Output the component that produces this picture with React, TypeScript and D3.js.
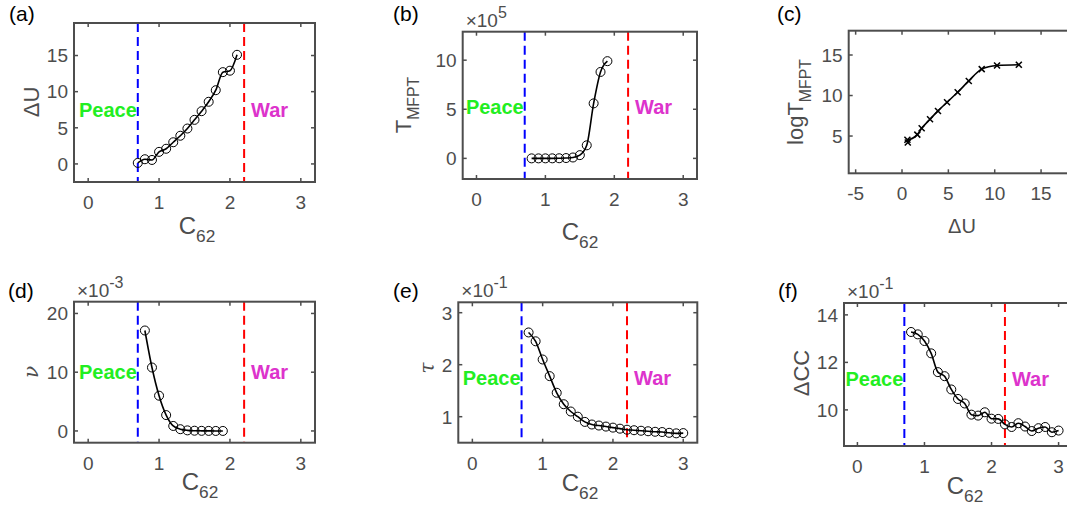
import React from 'react';
import * as d3 from 'd3';

const W = 1067;
const H = 508;

// ---------- data ----------
// (a) ΔU vs C62
const c62A = [0.7, 0.8, 0.9, 1.0, 1.1, 1.2, 1.3, 1.4, 1.5, 1.6, 1.7, 1.8, 1.9, 2.0, 2.1];
const dUA = [0.14, 0.65, 0.55, 1.67, 2.1, 3.0, 3.9, 4.9, 6.1, 7.3, 8.6, 10.2, 12.7, 12.9, 15.1];
// (b) T_MFPT (x10^5) vs C62
const c62B = [0.8, 0.9, 1.0, 1.1, 1.2, 1.3, 1.4, 1.5, 1.6, 1.7, 1.8, 1.9];
const tB = [0.0007, 0.001, 0.002, 0.004, 0.012, 0.033, 0.09, 0.33, 1.33, 5.6, 8.8, 9.9];
// (c) logT_MFPT vs ΔU
const dUC = [0.62, 0.58, 1.65, 2.12, 3.02, 3.88, 4.86, 6.0, 7.2, 8.6, 10.25, 12.6];
const logTC = [4.2, 4.55, 5.17, 5.95, 7.07, 8.1, 9.17, 10.4, 11.8, 13.26, 13.7, 13.8];
// (d) ν (x10^-3) vs C62
const c62D = [0.8, 0.9, 1.0, 1.1, 1.2, 1.3, 1.4, 1.5, 1.6, 1.7, 1.8, 1.9];
const nuD = [17.1, 10.8, 6.0, 2.7, 0.85, 0.3, 0.1, 0.04, 0.02, 0.01, 0.0, 0.0];
// (e) τ (x10^-1) vs C62
const c62E = [0.8, 0.9, 1.0, 1.1, 1.2, 1.3, 1.4, 1.5, 1.6, 1.7, 1.8, 1.9, 2.0, 2.1, 2.2, 2.3, 2.4, 2.5, 2.6, 2.7, 2.8, 2.9, 3.0];
const tauE = [2.62, 2.45, 2.10, 1.78, 1.46, 1.24, 1.10, 1.00, 0.90, 0.85, 0.83, 0.81, 0.79, 0.77, 0.75, 0.74, 0.73, 0.72, 0.71, 0.705, 0.69, 0.68, 0.685];
// (f) ΔCC (x10^-1) vs C62
const c62F = [0.8, 0.9, 1.0, 1.1, 1.2, 1.3, 1.4, 1.5, 1.6, 1.7, 1.8, 1.9, 2.0, 2.1, 2.2, 2.3, 2.4, 2.5, 2.6, 2.7, 2.8, 2.9, 3.0];
const ccF = [13.28, 13.18, 12.9, 12.38, 11.59, 11.42, 10.86, 10.46, 10.27, 9.8, 9.76, 9.9, 9.63, 9.62, 9.39, 9.28, 9.44, 9.3, 9.11, 9.23, 9.28, 9.06, 9.13];

const peaceC = 0.7;
const warC = 2.2;
const c62Ticks = [0, 1, 2, 3];

const AX = '#4d4d4d';
const FONT = 'Liberation Sans, Arial, Helvetica, sans-serif';

type Lbl = { main: string; sub?: string; x: number; y: number; size: number; italic?: boolean; serif?: boolean };

type PanelProps = {
  tag: string;
  tagX: number;
  tagY: number;
  box: [number, number, number, number];
  xDomain: [number, number];
  yDomain: [number, number];
  xTicks: number[];
  yTicks: number[];
  xs: number[];
  ys: number[];
  marker: 'o' | 'x';
  regions: boolean;
  textY?: number;
  exp?: string;
  xlabel: Lbl;
  ylabel: Lbl;
};

function Panel(p: PanelProps) {
  const [l, t, r, b] = p.box;
  const x = d3.scaleLinear().domain(p.xDomain).range([l, r]);
  const y = d3.scaleLinear().domain(p.yDomain).range([b, t]);
  const pts: [number, number][] = p.xs.map((v, i) => [x(v), y(p.ys[i])]);
  const line = d3.line().curve(d3.curveMonotoneX)(pts) || '';
  const tl = 4;
  return (
    <g>
      <text x={p.tagX} y={p.tagY} fontSize={21} fill="#000" fontFamily={FONT}>{p.tag}</text>
      {p.regions && (
        <g>
          <line x1={x(peaceC)} x2={x(peaceC)} y1={t} y2={b} stroke="#0000ff" strokeWidth={2} strokeDasharray="9,5" />
          <line x1={x(warC)} x2={x(warC)} y1={t} y2={b} stroke="#ff0000" strokeWidth={2} strokeDasharray="9,5" />
          <text x={x(peaceC) - 1} y={y(p.textY!)} dy="0.35em" textAnchor="end" fontWeight="bold" fontSize={20} fill="#22ee22" fontFamily={FONT}>Peace</text>
          <text x={x(warC) + 7} y={y(p.textY!)} dy="0.35em" textAnchor="start" fontWeight="bold" fontSize={20} fill="#dd33cc" fontFamily={FONT}>War</text>
        </g>
      )}
      <path d={line} fill="none" stroke="#000" strokeWidth={1.6} />
      {pts.map(([px, py], i) =>
        p.marker === 'o' ? (
          <circle key={i} cx={px} cy={py} r={4.5} fill="none" stroke="#000" strokeWidth={1} />
        ) : (
          <g key={i} stroke="#000" strokeWidth={1.5}>
            <line x1={px - 3} x2={px + 3} y1={py - 3} y2={py + 3} />
            <line x1={px - 3} x2={px + 3} y1={py + 3} y2={py - 3} />
          </g>
        )
      )}
      {/* ticks */}
      {p.xTicks.map((v) => (
        <g key={'x' + v}>
          <line x1={x(v)} x2={x(v)} y1={b} y2={b - tl} stroke={AX} strokeWidth={1.5} />
          <line x1={x(v)} x2={x(v)} y1={t} y2={t + tl} stroke={AX} strokeWidth={1.5} />
          <text x={x(v)} y={b + 27} textAnchor="middle" fontSize={19} fill={AX} fontFamily={FONT}>{v}</text>
        </g>
      ))}
      {p.yTicks.map((v) => (
        <g key={'y' + v}>
          <line x1={l} x2={l + tl} y1={y(v)} y2={y(v)} stroke={AX} strokeWidth={1.5} />
          <line x1={r} x2={r - tl} y1={y(v)} y2={y(v)} stroke={AX} strokeWidth={1.5} />
          <text x={l - 6} y={y(v)} dy="0.36em" textAnchor="end" fontSize={19} fill={AX} fontFamily={FONT}>{v}</text>
        </g>
      ))}
      <rect x={l} y={t} width={r - l} height={b - t} fill="none" stroke={AX} strokeWidth={2} />
      {p.exp && (
        <text x={l + 3} y={t - 5} fontSize={19} fill={AX} fontFamily={FONT}>
          ×10<tspan fontSize={16} dy={-9}>{p.exp}</tspan>
        </text>
      )}
      <text x={p.xlabel.x} y={p.xlabel.y} textAnchor="middle" fontSize={p.xlabel.size} fill={AX} fontFamily={FONT}>
        {p.xlabel.main}
        {p.xlabel.sub && <tspan fontSize={p.xlabel.size * 0.72} dy={p.xlabel.size * 0.35}>{p.xlabel.sub}</tspan>}
      </text>
      <text
        transform={`translate(${p.ylabel.x},${p.ylabel.y}) rotate(-90)`}
        textAnchor="middle"
        fontSize={p.ylabel.size}
        fill={AX}
        fontStyle={p.ylabel.italic ? 'italic' : 'normal'}
        fontFamily={p.ylabel.serif ? 'DejaVu Serif, serif' : FONT}
      >
        {p.ylabel.main}
        {p.ylabel.sub && <tspan fontSize={p.ylabel.size * 0.72} dy={p.ylabel.size * 0.35}>{p.ylabel.sub}</tspan>}
      </text>
    </g>
  );
}

export default function App() {
  return (
    <svg width={W} height={H} style={{ position: 'absolute', left: 0, top: 0, background: '#fff' }}>
      <rect x={0} y={0} width={W} height={H} fill="#fff" />
      <Panel
        tag="(a)" tagX={9} tagY={21}
        box={[74, 23, 315, 182]} xDomain={[-0.2, 3.2]} yDomain={[-2.5, 19.5]}
        xTicks={c62Ticks} yTicks={[0, 5, 10, 15]}
        xs={c62A} ys={dUA} marker="o" regions textY={7.5}
        xlabel={{ main: 'C', sub: '62', x: 197, y: 234, size: 24 }}
        ylabel={{ main: 'ΔU', x: 39, y: 102, size: 22 }}
      />
      <Panel
        tag="(b)" tagX={393} tagY={21}
        box={[462.7, 31.7, 697, 179]} xDomain={[-0.2, 3.2]} yDomain={[-2.1, 12.9]}
        xTicks={c62Ticks} yTicks={[0, 5, 10]}
        xs={c62B} ys={tB} marker="o" regions textY={5.2} exp="5"
        xlabel={{ main: 'C', sub: '62', x: 580, y: 240, size: 24 }}
        ylabel={{ main: 'T', sub: 'MFPT', x: 411, y: 105, size: 22 }}
      />
      <Panel
        tag="(c)" tagX={777} tagY={21}
        box={[848.7, 30.7, 1075, 173.3]} xDomain={[-5.75, 18.66]} yDomain={[0.4, 18]}
        xTicks={[-5, 0, 5, 10, 15]} yTicks={[5, 10, 15]}
        xs={dUC} ys={logTC} marker="x" regions={false}
        xlabel={{ main: 'ΔU', x: 962, y: 233, size: 20 }}
        ylabel={{ main: 'logT', sub: 'MFPT', x: 803, y: 102, size: 22 }}
      />
      <Panel
        tag="(d)" tagX={8} tagY={298}
        box={[74, 301.7, 315, 442.7]} xDomain={[-0.2, 3.2]} yDomain={[-2, 22]}
        xTicks={c62Ticks} yTicks={[0, 10, 20]}
        xs={c62D} ys={nuD} marker="o" regions textY={10} exp="-3"
        xlabel={{ main: 'C', sub: '62', x: 200, y: 490, size: 24 }}
        ylabel={{ main: 'ν', x: 38, y: 372, size: 20, italic: true, serif: true }}
      />
      <Panel
        tag="(e)" tagX={393} tagY={298}
        box={[458.3, 302.3, 697.3, 442.7]} xDomain={[-0.2, 3.2]} yDomain={[0.5, 3.2]}
        xTicks={c62Ticks} yTicks={[1, 2, 3]}
        xs={c62E} ys={tauE} marker="o" regions textY={1.75} exp="-1"
        xlabel={{ main: 'C', sub: '62', x: 580, y: 491, size: 24 }}
        ylabel={{ main: 'τ', x: 434, y: 368, size: 20, italic: true, serif: true }}
      />
      <Panel
        tag="(f)" tagX={778} tagY={298}
        box={[844, 303, 1072, 446]} xDomain={[-0.2, 3.2]} yDomain={[8.48, 14.5]}
        xTicks={c62Ticks} yTicks={[10, 12, 14]}
        xs={c62F} ys={ccF} marker="o" regions textY={11.3} exp="-1"
        xlabel={{ main: 'C', sub: '62', x: 965, y: 494, size: 24 }}
        ylabel={{ main: 'ΔCC', x: 809, y: 373, size: 22 }}
      />
    </svg>
  );
}
